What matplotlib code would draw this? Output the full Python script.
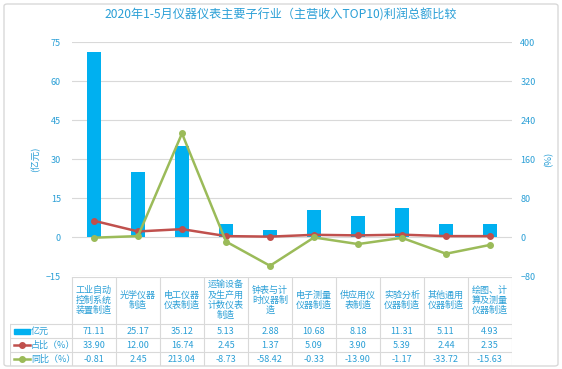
import matplotlib
matplotlib.use("Agg")
import matplotlib.pyplot as plt
from matplotlib.patches import FancyBboxPatch, Rectangle
from matplotlib.lines import Line2D

plt.rcParams['font.family'] = ['Noto Sans CJK SC', 'DejaVu Sans']

# data
categories = ["工业自动\n控制系统\n装置制造", "光学仪器\n制造", "电工仪器\n仪表制造",
              "运输设备\n及生产用\n计数仪表\n制造", "钟表与计\n时仪器制\n造", "电子测量\n仪器制造",
              "供应用仪\n表制造", "实验分析\n仪器制造", "其他通用\n仪器制造", "绘图、计\n算及测量\n仪器制造"]
profit = [71.11, 25.17, 35.12, 5.13, 2.88, 10.68, 8.18, 11.31, 5.11, 4.93]
share = [33.90, 12.00, 16.74, 2.45, 1.37, 5.09, 3.90, 5.39, 2.44, 2.35]
yoy = [-0.81, 2.45, 213.04, -8.73, -58.42, -0.33, -13.90, -1.17, -33.72, -15.63]
series_names = ["亿元", "占比（%）", "同比（%）"]
left_ticks = [-15, 0, 15, 30, 45, 60, 75]
right_ticks = [-80, 0, 80, 160, 240, 320, 400]

TXT = '#2A9FD6'
BAR = '#00B0F0'
RED = '#C0504D'
GREEN = '#9BBB59'
GRID = '#D9D9D9'

W, H = 562, 369
fig = plt.figure(figsize=(W / 100, H / 100), dpi=100)

# outer frame
fig.patches.append(FancyBboxPatch((4 / W, 3 / H), 554 / W, 362 / H,
                                  boxstyle="round,pad=0,rounding_size=0.006",
                                  transform=fig.transFigure, fill=False,
                                  edgecolor='#D9D9D9', linewidth=1))

x = list(range(len(categories)))
px_left, px_right, px_top, px_bot = 72, 512, 42.3, 276.3
ax = fig.add_axes([px_left / W, 1 - px_bot / H, (px_right - px_left) / W, (px_bot - px_top) / H])
ax.bar(x, profit, width=0.3, color=BAR, zorder=3)
ax.set_xlim(-0.5, len(x) - 0.5)
ax.set_ylim(-15, 75)
ax.set_yticks(left_ticks)
ax.set_xticks([])
ax.grid(axis='y', color=GRID, linewidth=0.8, zorder=0)
for s in ax.spines.values():
    s.set_visible(False)
ax.tick_params(axis='y', length=0, labelsize=6.5, labelcolor=TXT, pad=8)
ax.set_ylabel("(亿元)", color=TXT, fontsize=6.8, labelpad=4)

ax2 = ax.twinx()
ax2.plot(x, share, color=RED, linewidth=1.8, marker='o', markersize=4, zorder=4)
ax2.plot(x, yoy, color=GREEN, linewidth=1.8, marker='o', markersize=4, zorder=5)
ax2.set_ylim(-80, 400)
ax2.set_yticks(right_ticks)
for s in ax2.spines.values():
    s.set_visible(False)
ax2.tick_params(axis='y', length=0, labelsize=6.5, labelcolor=TXT, pad=6)
ax2.set_ylabel("(%)", color=TXT, fontsize=6.8, labelpad=6)

fig.text(0.5, 1 - 15 / H, "2020年1-5月仪器仪表主要子行业（主营收入TOP10)利润总额比较",
         ha='center', va='center', color=TXT, fontsize=8.7)

# data table drawn below the plot, columns aligned with categories
tab_left, tab_top, tab_bot = 10, 277, 366
unit = (px_right - px_left) / len(x)
xmin_t = -0.5 - (px_left - tab_left) / unit
axt = fig.add_axes([tab_left / W, 1 - tab_bot / H, (px_right - tab_left) / W, (tab_bot - tab_top) / H])
axt.set_xlim(xmin_t, len(x) - 0.5)
axt.set_ylim(tab_bot, tab_top)
axt.axis('off')

row_lines = [277, 324, 338, 352, 366]
lc = dict(color=GRID, linewidth=0.8)
axt.plot([-0.5, len(x) - 0.5], [row_lines[0]] * 2, **lc)
for yl in row_lines[1:]:
    axt.plot([xmin_t, len(x) - 0.5], [yl, yl], **lc)
for i in range(len(x) + 1):
    axt.plot([i - 0.5, i - 0.5], [row_lines[0], row_lines[-1]], **lc)
axt.plot([xmin_t, xmin_t], [row_lines[1], row_lines[-1]], **lc)

for i, c in enumerate(categories):
    axt.text(i, (row_lines[0] + row_lines[1]) / 2, c, ha='center', va='center',
             color=TXT, fontsize=6.5, linespacing=1.12)

rows = [profit, share, yoy]
for r, vals in enumerate(rows):
    yc = (row_lines[r + 1] + row_lines[r + 2]) / 2
    for i, v in enumerate(vals):
        axt.text(i, yc, f"{v:.2f}", ha='center', va='center', color=TXT, fontsize=6.5)

# legend keys in the first column
key_x0 = xmin_t + 4 / unit
key_x1 = xmin_t + 20 / unit
for r, name in enumerate(series_names):
    yc = (row_lines[r + 1] + row_lines[r + 2]) / 2
    if r == 0:
        axt.add_patch(Rectangle((key_x0, yc - 2.5), key_x1 - key_x0, 5, color=BAR))
    else:
        col = RED if r == 1 else GREEN
        axt.add_line(Line2D([key_x0, key_x1], [yc, yc], color=col, linewidth=1.8))
        axt.plot([(key_x0 + key_x1) / 2], [yc], 'o', color=col, markersize=4)
    axt.text(key_x1 + 1 / unit, yc, name, ha='left', va='center', color=TXT, fontsize=6.5)

fig.savefig("out.png", dpi=100)
